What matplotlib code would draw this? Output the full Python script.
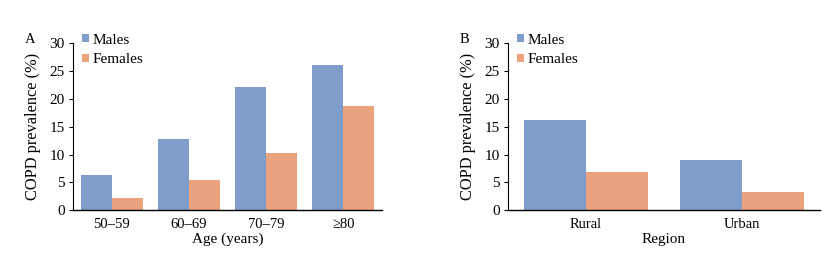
import numpy as np
import matplotlib.pyplot as plt

plt.rcParams['font.family'] = ['Liberation Serif', 'DejaVu Serif']
plt.rcParams['font.size'] = 10.5

age_groups = ['50–59', '60–69', '70–79', '≥80']
age_males = [6.4, 12.8, 22.2, 26.1]
age_females = [2.1, 5.4, 10.2, 18.7]

regions = ['Rural', 'Urban']
region_males = [16.2, 9.0]
region_females = [6.9, 3.3]

male_color = '#7E9DCB'
female_color = '#EBA27F'


def draw_panel(ax, cats, males, females, xlabel, letter):
    x = np.arange(len(cats))
    w = 0.4
    ax.bar(x - w / 2, males, w, color=male_color, label='Males')
    ax.bar(x + w / 2, females, w, color=female_color, label='Females')
    ax.set_xlim(-0.5, len(cats) - 0.5)
    ax.set_ylim(0, 30)
    ax.set_yticks(range(0, 31, 5))
    ax.set_xticks(x)
    ax.set_xticklabels(cats)
    ax.tick_params(axis='x', length=0, pad=6)
    ax.tick_params(axis='y', length=3, width=0.8, direction='out', pad=3,
                   labelsize=11)
    for s in ['top', 'right']:
        ax.spines[s].set_visible(False)
    ax.spines['left'].set_linewidth(0.8)
    ax.spines['bottom'].set_linewidth(1.0)
    ax.set_ylabel('COPD prevalence (%)', labelpad=6, fontsize=11.8)
    ax.set_xlabel(xlabel, labelpad=1, fontsize=11)
    ax.text(-0.155, 1.02, letter, transform=ax.transAxes, fontsize=10.5,
            va='center', ha='left')
    ax.legend(loc='upper left', bbox_to_anchor=(0.01, 1.095), frameon=False,
              handlelength=0.45, handleheight=0.45, handletextpad=0.25,
              labelspacing=0.45, borderaxespad=0, fontsize=11)


fig = plt.figure(figsize=(8.3, 2.61), dpi=100)
ax1 = fig.add_axes([0.088, 0.195, 0.372, 0.639])
ax2 = fig.add_axes([0.612, 0.195, 0.376, 0.639])

draw_panel(ax1, age_groups, age_males, age_females, 'Age (years)', 'A')
draw_panel(ax2, regions, region_males, region_females, 'Region', 'B')

fig.savefig('out.png', dpi=100)
